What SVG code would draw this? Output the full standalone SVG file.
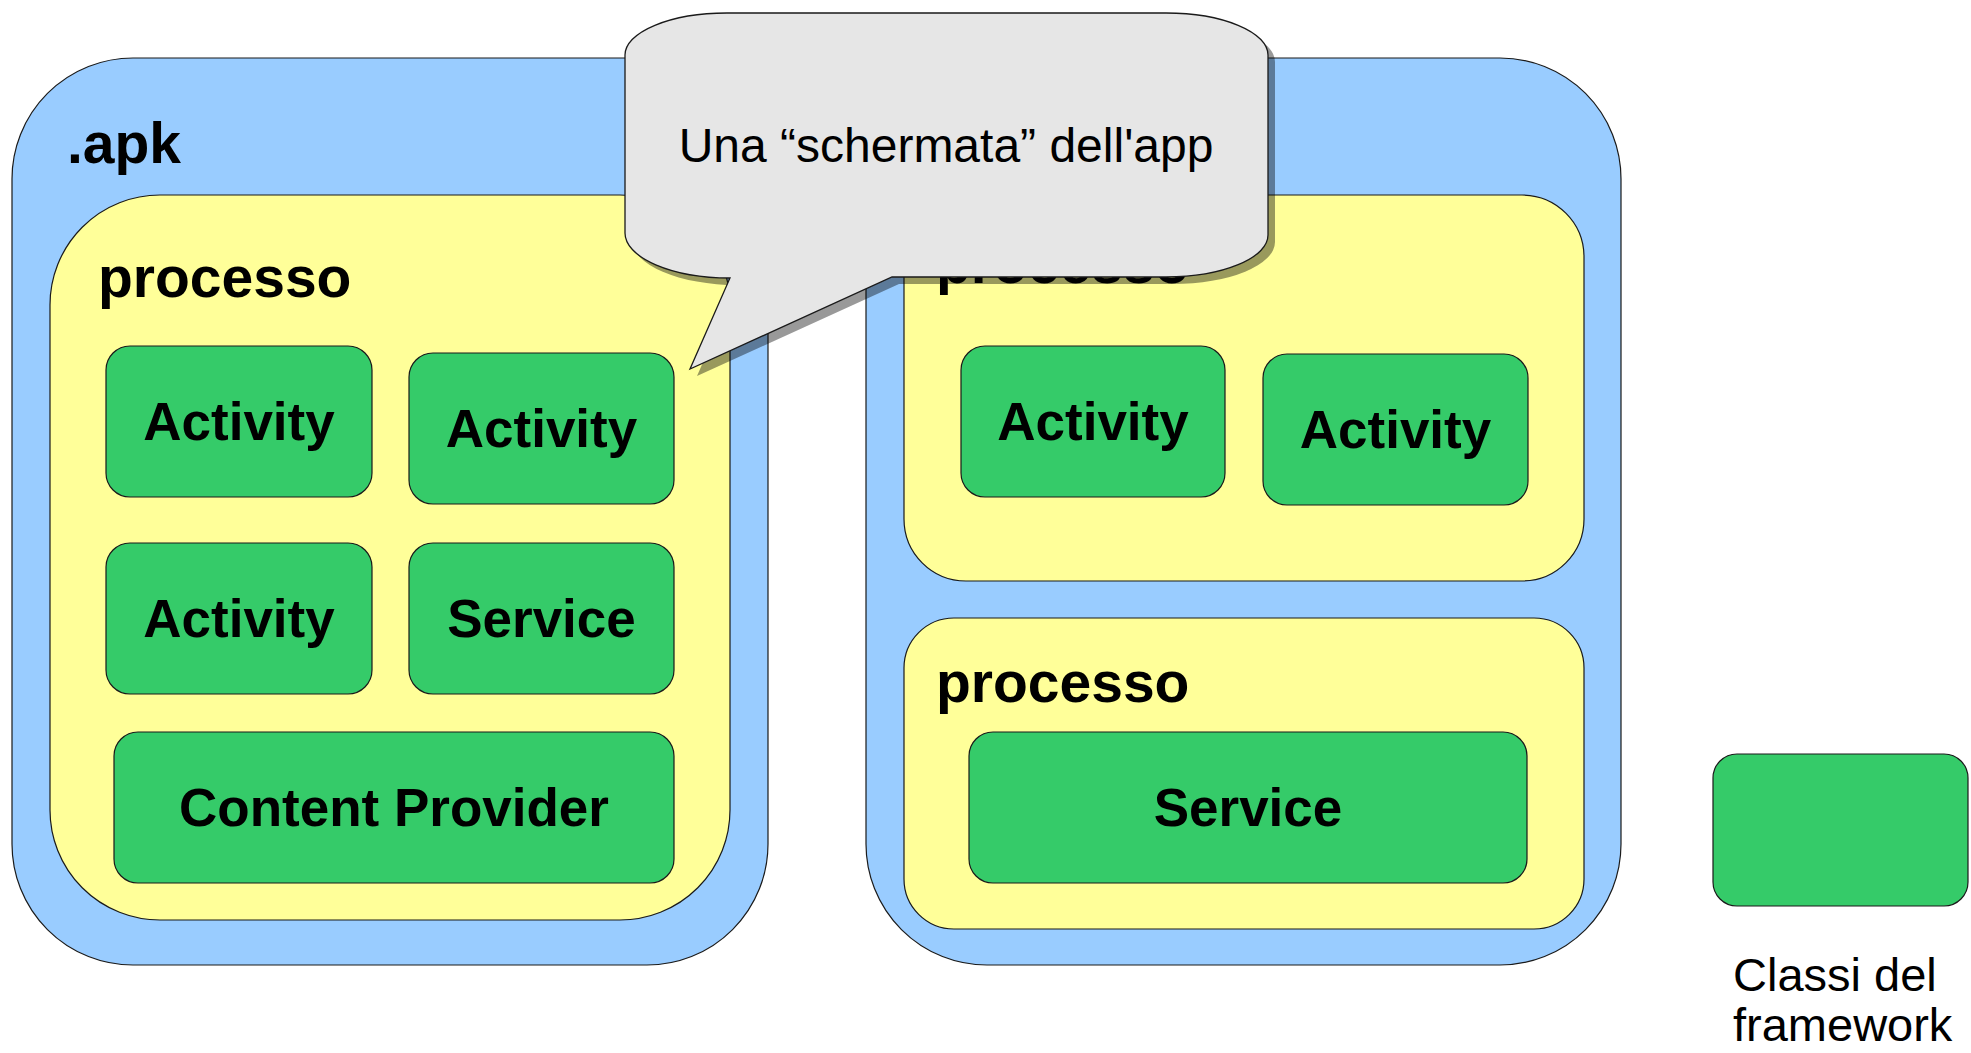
<svg xmlns="http://www.w3.org/2000/svg" width="1971" height="1053" viewBox="0 0 1971 1053">
<style>
.apk{fill:#99ccff;stroke:#1a1a1a;stroke-width:1.2}
.proc{fill:#ffff99;stroke:#1a1a1a;stroke-width:1.2}
.comp{fill:#35cb69;stroke:#1a1a1a;stroke-width:1.2}
.big{font-family:"Liberation Sans",Arial,sans-serif;font-weight:bold;font-size:57px;fill:#000}
.lbl{font-family:"Liberation Sans",Arial,sans-serif;font-weight:bold;font-size:53px;fill:#000;text-anchor:middle}
.reg{font-family:"Liberation Sans",Arial,sans-serif;font-size:48px;fill:#000}
</style>
<defs>
<path id="callout-shape" d="M727,13 L1166,13 A102,42 0 0 1 1268,55 L1268,235 A102,42 0 0 1 1166,277 L892,277 L690,369 L730,278 A105,45 0 0 1 625,233 L625,55 A102,42 0 0 1 727,13 Z"/>
</defs>
<rect width="1971" height="1053" fill="#ffffff"/>

<g id="apk-left">
<rect class="apk" x="12" y="58" width="756" height="907" rx="121" ry="121"/>
<text class="big" x="67" y="163">.apk</text>
</g>
<g id="apk-right">
<rect class="apk" x="866" y="58" width="755" height="907" rx="121" ry="121"/>
</g>

<g id="processo-left">
<rect class="proc" x="50" y="195" width="680" height="725" rx="110" ry="110"/>
<text class="big" x="98" y="297">processo</text>
</g>
<g id="processo-right-top">
<rect class="proc" x="904" y="195" width="680" height="386" rx="62" ry="62"/>
<text class="big" x="936" y="283">processo</text>
</g>
<g id="processo-right-bottom">
<rect class="proc" x="904" y="618" width="680" height="311" rx="50" ry="50"/>
<text class="big" x="936" y="702">processo</text>
</g>

<g id="activity-l1">
<rect class="comp" x="106" y="346" width="266" height="151" rx="24" ry="24"/>
<text class="lbl" x="239" y="440">Activity</text>
</g>
<g id="activity-l2">
<rect class="comp" x="409" y="353" width="265" height="151" rx="24" ry="24"/>
<text class="lbl" x="541.5" y="447">Activity</text>
</g>
<g id="activity-l3">
<rect class="comp" x="106" y="543" width="266" height="151" rx="24" ry="24"/>
<text class="lbl" x="239" y="637">Activity</text>
</g>
<g id="service-l">
<rect class="comp" x="409" y="543" width="265" height="151" rx="24" ry="24"/>
<text class="lbl" x="541.5" y="637">Service</text>
</g>
<g id="content-provider">
<rect class="comp" x="114" y="732" width="560" height="151" rx="24" ry="24"/>
<text class="lbl" x="394" y="826">Content Provider</text>
</g>
<g id="activity-r1">
<rect class="comp" x="961" y="346" width="264" height="151" rx="24" ry="24"/>
<text class="lbl" x="1093" y="440">Activity</text>
</g>
<g id="activity-r2">
<rect class="comp" x="1263" y="354" width="265" height="151" rx="24" ry="24"/>
<text class="lbl" x="1395.5" y="448">Activity</text>
</g>
<g id="service-r">
<rect class="comp" x="969" y="732" width="558" height="151" rx="24" ry="24"/>
<text class="lbl" x="1248" y="826">Service</text>
</g>

<g id="legend">
<rect class="comp" x="1713" y="754" width="255" height="152" rx="24" ry="24"/>
<text class="reg" style="font-size:47px" x="1733" y="991">Classi del</text>
<text class="reg" style="font-size:47px" x="1733" y="1041">framework</text>
</g>

<g id="connectors"></g>

<g id="callout">
<use href="#callout-shape" transform="translate(7,7)" fill="#000000" fill-opacity="0.4"/>
<use href="#callout-shape" fill="#e6e6e6" stroke="#1a1a1a" stroke-width="1.3"/>
<text class="reg" x="946" y="162" text-anchor="middle">Una “schermata” dell'app</text>
</g>
</svg>
